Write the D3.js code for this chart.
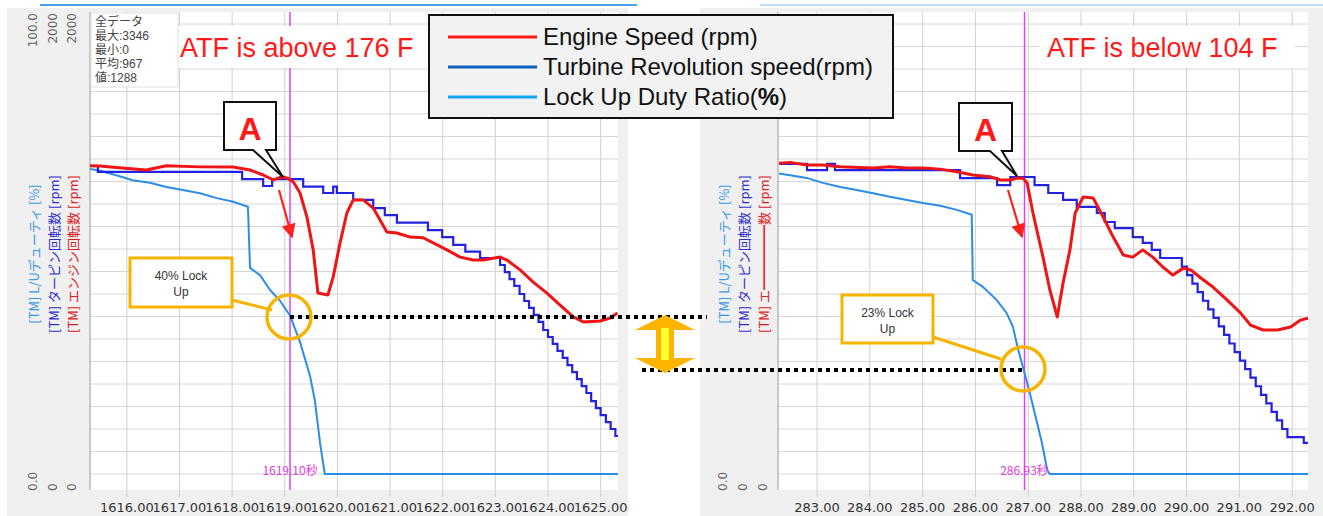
<!DOCTYPE html>
<html>
<head>
<meta charset="utf-8">
<script src="https://cdn.jsdelivr.net/npm/d3@7"></script>
<style>
  body { margin: 0; background: #ffffff; }
  svg { display: block; }
</style>
</head>
<body>
<script>
// ---- data: [time (s), value] ----
const xTicksLeft = [1616, 1617, 1618, 1619, 1620, 1621, 1622, 1623, 1624, 1625];
const xTicksRight = [283, 284, 285, 286, 287, 288, 289, 290, 291, 292];

const engineLeft = [[1615.30,1370],[1615.49,1369],[1615.80,1362],[1616.37,1351],[1616.75,1370],[1617.39,1365],[1618.02,1364],
  [1618.34,1351],[1618.59,1329],[1618.78,1307],[1618.95,1321],[1619.05,1315],[1619.16,1299],[1619.29,1249],[1619.42,1143],
  [1619.54,996],[1619.63,804],[1619.82,796],[1619.92,876],[1620.05,1027],[1620.18,1160],[1620.30,1218],[1620.49,1218],
  [1620.68,1182],[1620.94,1076],[1621.13,1071],[1621.38,1053],[1621.63,1050],[1621.82,1027],[1622.08,996],[1622.33,964],
  [1622.58,951],[1622.77,951],[1623.09,964],[1623.22,951],[1623.47,907],[1623.72,853],[1623.98,804],[1624.23,751],
  [1624.48,698],[1624.67,676],[1624.99,680],[1625.18,693],[1625.32,716]];

const turbineLeft = [[1615.30,1369],[1615.45,1343],[1618.19,1311],[1618.59,1280],[1618.76,1311],[1619.35,1277],[1619.73,1249],
  [1619.92,1277],[1619.99,1249],[1620.30,1218],[1620.68,1182],[1620.90,1151],[1621.13,1117],[1621.72,1084],[1621.99,1053],
  [1622.20,1018],[1622.43,988],[1622.71,960],[1623.09,929],[1623.18,897],[1623.27,866],[1623.36,836],[1623.46,800],
  [1623.55,769],[1623.64,738],[1623.73,707],[1623.82,676],[1623.91,640],[1624.00,609],[1624.09,578],[1624.18,547],
  [1624.28,516],[1624.37,484],[1624.46,453],[1624.55,422],[1624.64,391],[1624.73,360],[1624.82,324],[1624.91,293],
  [1625.00,262],[1625.10,231],[1625.19,200],[1625.28,169],[1625.33,169]];

const dutyLeft = [[1615.30,67.8],[1615.49,67.4],[1615.80,66.4],[1616.11,65.3],[1616.44,64.7],[1616.75,63.8],[1617.06,63.1],
  [1617.39,62.4],[1617.71,61.3],[1618.02,60.5],[1618.30,59.4],[1618.34,45.8],[1618.53,44.2],[1618.72,40.9],[1618.91,38.5],
  [1619.10,35.2],[1619.29,29.3],[1619.48,21.8],[1619.57,16.4],[1619.67,6.9],[1619.76,0],[1625.33,0]];

const engineRight = [[282.28,1381],[282.49,1385],[282.80,1373],[283.11,1373],[283.44,1366],[284.06,1360],[284.38,1366],
  [284.70,1360],[285.01,1360],[285.33,1355],[285.65,1343],[285.95,1329],[286.28,1321],[286.47,1307],[286.66,1307],
  [286.79,1315],[286.90,1315],[286.98,1293],[287.09,1160],[287.28,964],[287.41,818],[287.55,698],[287.66,849],
  [287.79,996],[287.89,1160],[288.04,1231],[288.23,1227],[288.42,1142],[288.61,1053],[288.80,973],[288.98,964],
  [289.17,996],[289.36,964],[289.55,920],[289.74,884],[289.94,915],[290.08,907],[290.27,871],[290.50,831],
  [290.77,773],[291.02,716],[291.21,662],[291.45,640],[291.72,640],[291.97,653],[292.16,684],[292.30,693]];

const turbineRight = [[282.28,1378],[282.81,1351],[283.19,1378],[283.34,1351],[285.71,1315],[286.41,1284],[286.66,1320],
  [287.12,1284],[287.38,1249],[287.66,1218],[287.92,1187],[288.30,1160],[288.45,1120],[288.64,1093],[288.98,1053],
  [289.17,1027],[289.34,996],[289.50,960],[289.91,922],[290.01,884],[290.11,846],[290.21,808],[290.31,770],[290.41,732],
  [290.51,694],[290.61,656],[290.71,618],[290.81,580],[290.91,542],[291.01,504],[291.11,466],[291.21,428],[291.31,390],
  [291.41,352],[291.51,314],[291.61,276],[291.71,238],[291.81,200],[291.91,164],[292.22,138],[292.30,138]];

const dutyRight = [[282.28,66.8],[282.49,66.4],[282.80,65.8],[283.11,64.7],[283.44,63.8],[283.75,63.1],[284.06,62.4],
  [284.38,61.6],[284.70,60.9],[285.01,60.2],[285.33,59.6],[285.65,58.7],[285.93,57.6],[285.95,43.1],[286.14,41.6],
  [286.40,38.7],[286.59,35.8],[286.71,32.7],[286.81,27.6],[286.90,23.8],[287.03,18.0],[287.17,11.3],[287.26,6.9],
  [287.36,0.9],[287.41,0],[292.30,0]];

const legendNames = ["Engine Speed (rpm)", "Turbine Revolution speed(rpm)", "Lock Up Duty Ratio("];
const legendColors = ["#ff1a1a", "#1060c0", "#12a6f0"];
const infoLines = ["全データ", "最大:3346", "最小:0", "平均:967", "値:1288"];
const axisNames = ["[TM] L/Uデューティ [%]", "[TM] ターピン回転数 [rpm]", "[TM] エンジン回転数 [rpm]"];
const axisNamesRight = ["[TM] L/Uデューティ [%]", "[TM] ターピン回転数 [rpm]", "[TM] エ━━━━━数 [rpm]"];
const axisColors = ["#3a9ae8", "#3030d0", "#e02020"];
const topLabels = ["100.0", "2000", "2000"];
const bottomLabels = ["0.0", "0", "0"];

const W = 1323, H = 516;
const jp = "'Noto Sans CJK JP', sans-serif";
const arial = "'Liberation Sans', Arial, sans-serif";

let svg = d3.select("body").append("svg")
  .attr("width", W)
  .attr("height", H);

let defs = svg.append("defs");
defs.append("marker")
  .attr("id", "redhead")
  .attr("viewBox", "0 0 10 10")
  .attr("refX", 9).attr("refY", 5)
  .attr("markerWidth", 7).attr("markerHeight", 6.5)
  .attr("orient", "auto")
  .append("path").attr("d", "M0,0 L10,5 L0,10 Z").attr("fill", "#ff2020");

let yRpm = d3.scaleLinear().domain([0, 2000]).range([474, 24]);
let yDuty = d3.scaleLinear().domain([0, 100]).range([474, 24]);

function drawPanel(p) {
  let x = d3.scaleLinear().domain(p.domain).range([p.left, p.right]);

  // gray frame + white plot
  svg.append("rect").attr("x", p.grayLeft).attr("y", 8).attr("width", p.grayRight - p.grayLeft).attr("height", H - 8)
    .attr("fill", "#f0f0f0");
  svg.append("rect").attr("x", p.left).attr("y", 12).attr("width", p.right - p.left).attr("height", 478)
    .attr("fill", "#ffffff");

  let clipId = "clip" + p.id;
  defs.append("clipPath").attr("id", clipId)
    .append("rect").attr("x", p.left).attr("y", 12).attr("width", p.right - p.left).attr("height", 478);

  // grid
  svg.append("g").selectAll("line")
    .data(d3.range(0, 2001, 100))
    .enter().append("line")
      .attr("x1", p.left).attr("x2", p.right)
      .attr("y1", d => yRpm(d)).attr("y2", d => yRpm(d))
      .attr("stroke", "#d6d6d6").attr("stroke-width", 1);

  svg.append("g").selectAll("line")
    .data(p.ticks)
    .enter().append("line")
      .attr("x1", d => x(d)).attr("x2", d => x(d))
      .attr("y1", 12).attr("y2", 497)
      .attr("stroke", "#d0d0d0").attr("stroke-width", 1);

  svg.append("line").attr("x1", p.left).attr("x2", p.left).attr("y1", 12).attr("y2", 490)
    .attr("stroke", "#9a9a9a").attr("stroke-width", 1);

  // tick labels
  svg.append("g").selectAll("text")
    .data(p.ticks)
    .enter().append("text")
      .attr("x", d => x(d)).attr("y", 512)
      .attr("text-anchor", "middle")
      .attr("font-family", "'DejaVu Sans', sans-serif")
      .attr("font-size", "13px")
      .attr("fill", "#333")
      .text(d => d.toFixed(2));

  // rotated axis labels
  p.axisX.forEach((ax, i) => {
    svg.append("text")
      .attr("transform", `translate(${ax},13) rotate(-90)`)
      .attr("text-anchor", "end").attr("dominant-baseline", "central")
      .attr("font-family", "'DejaVu Sans', sans-serif").attr("font-size", "12px").attr("fill", "#666")
      .text(topLabels[i]);
    svg.append("text")
      .attr("transform", `translate(${ax},491) rotate(-90)`)
      .attr("text-anchor", "start").attr("dominant-baseline", "central")
      .attr("font-family", "'DejaVu Sans', sans-serif").attr("font-size", "12px").attr("fill", "#666")
      .text(bottomLabels[i]);
    svg.append("text")
      .attr("transform", `translate(${ax},254) rotate(-90)`)
      .attr("text-anchor", "middle").attr("dominant-baseline", "central")
      .attr("font-family", jp).attr("font-size", "13px").attr("fill", axisColors[i])
      .text(p.names[i]);
  });

  // cursor line
  let cx = x(p.cursor);
  svg.append("line").attr("x1", cx).attr("x2", cx).attr("y1", 12).attr("y2", 490)
    .attr("stroke", "#e040f0").attr("stroke-width", 1.5);

  let plot = svg.append("g").attr("clip-path", `url(#${clipId})`);

  plot.append("path")
    .datum(p.duty)
    .attr("fill", "none").attr("stroke", "#2a8ee8").attr("stroke-width", 2)
    .attr("d", d3.line().x(d => x(d[0])).y(d => yDuty(d[1])));

  plot.append("path")
    .datum(p.turbine)
    .attr("fill", "none").attr("stroke", "#2222e0").attr("stroke-width", 2.2)
    .attr("d", d3.line().curve(d3.curveStepAfter).x(d => x(d[0])).y(d => yRpm(d[1])));

  plot.append("path")
    .datum(p.engine)
    .attr("fill", "none").attr("stroke", "#f01414").attr("stroke-width", 3)
    .attr("stroke-linejoin", "round")
    .attr("d", d3.line().x(d => x(d[0])).y(d => yRpm(d[1])));

  svg.append("text")
    .attr("x", cx).attr("y", 475)
    .attr("text-anchor", "middle")
    .attr("font-family", jp).attr("font-size", "12px").attr("fill", "#e040e0")
    .text(p.cursor.toFixed(2) + "秒");

  // title
  svg.append("rect").attr("x", p.titleX - 8).attr("y", 26).attr("width", 256).attr("height", 42).attr("fill", "#ffffff");
  svg.append("text")
    .attr("x", p.titleX).attr("y", 57)
    .attr("font-family", arial).attr("font-size", "27px").attr("fill", "#ff1a1a")
    .text(p.title);

  // "A" bubble
  let b = p.bubble;
  svg.append("path")
    .attr("d", `M${b.l},${b.t} H${b.r} V${b.b} H${b.w2} L${b.tx},${b.ty} L${b.w1},${b.b} H${b.l} Z`)
    .attr("fill", "#ffffff").attr("stroke", "#111").attr("stroke-width", 2);
  svg.append("text")
    .attr("x", (b.l + b.r) / 2).attr("y", b.t + 38)
    .attr("text-anchor", "middle")
    .attr("font-family", arial).attr("font-weight", "bold").attr("font-size", "32px").attr("fill", "#ff1a1a")
    .text("A");

  // red arrow
  svg.append("line")
    .attr("x1", p.arrow[0]).attr("y1", p.arrow[1]).attr("x2", p.arrow[2]).attr("y2", p.arrow[3])
    .attr("stroke", "#ff2020").attr("stroke-width", 2.2)
    .attr("marker-end", "url(#redhead)");

  // lock up callout
  let c = p.callout;
  svg.append("line").attr("x1", c.lx1).attr("y1", c.ly1).attr("x2", c.lx2).attr("y2", c.ly2)
    .attr("stroke", "#f5b400").attr("stroke-width", 3);
  svg.append("rect").attr("x", c.x).attr("y", c.y).attr("width", c.w).attr("height", c.h)
    .attr("fill", "#ffffff").attr("stroke", "#f5b400").attr("stroke-width", 3);
  svg.append("text").attr("x", c.x + c.w / 2).attr("y", c.y + 22)
    .attr("text-anchor", "middle").attr("font-family", arial).attr("font-size", "12px").attr("fill", "#333")
    .text(c.text);
  svg.append("text").attr("x", c.x + c.w / 2).attr("y", c.y + 38)
    .attr("text-anchor", "middle").attr("font-family", arial).attr("font-size", "12px").attr("fill", "#333")
    .text("Up");
}

// top window lines
svg.append("line").attr("x1", 40).attr("x2", 637).attr("y1", 5).attr("y2", 5)
  .attr("stroke", "#4aa0ea").attr("stroke-width", 2);
svg.append("line").attr("x1", 760).attr("x2", 1323).attr("y1", 5).attr("y2", 5)
  .attr("stroke", "#a8cff0").attr("stroke-width", 1.5);

drawPanel({
  id: "L", domain: [1615.30, 1625.33], left: 90, right: 618, grayLeft: 7, grayRight: 628,
  ticks: xTicksLeft, axisX: [33, 53, 72], names: axisNames, cursor: 1619.10,
  engine: engineLeft, turbine: turbineLeft, duty: dutyLeft,
  title: "ATF is above 176 F", titleX: 180,
  bubble: { l: 224, r: 276, t: 102, b: 150, w1: 253, w2: 266, tx: 283, ty: 177 },
  arrow: [279, 190, 292, 237],
  callout: { x: 130, y: 258, w: 102, h: 49, text: "40% Lock", lx1: 232, ly1: 300, lx2: 272, ly2: 310 }
});

drawPanel({
  id: "R", domain: [282.26, 292.30], left: 778, right: 1308, grayLeft: 700, grayRight: 1323,
  ticks: xTicksRight, axisX: [723, 743, 763], names: axisNamesRight, cursor: 286.93,
  engine: engineRight, turbine: turbineRight, duty: dutyRight,
  title: "ATF is below 104 F", titleX: 1047,
  bubble: { l: 959, r: 1012, t: 103, b: 151, w1: 990, w2: 1002, tx: 1017, ty: 176 },
  arrow: [1008, 190, 1022, 237],
  callout: { x: 842, y: 295, w: 91, h: 48, text: "23% Lock", lx1: 933, ly1: 337, lx2: 1001, ly2: 359 }
});

// info box
svg.append("rect").attr("x", 91).attr("y", 13).attr("width", 87).attr("height", 74)
  .attr("fill", "#ffffff").attr("stroke", "#e0e0e0").attr("stroke-width", 1);
svg.append("g").selectAll("text")
  .data(infoLines)
  .enter().append("text")
    .attr("x", 95).attr("y", (d, i) => 26 + i * 14)
    .attr("font-family", "'Liberation Sans', 'Noto Sans CJK JP', sans-serif").attr("font-size", "12px").attr("fill", "#444")
    .text(d => d);

// dotted reference lines and circles
svg.append("line").attr("x1", 290).attr("x2", 707).attr("y1", 317).attr("y2", 317)
  .attr("stroke", "#000").attr("stroke-width", 4).attr("stroke-dasharray", "4,4");
svg.append("line").attr("x1", 642).attr("x2", 1023).attr("y1", 370).attr("y2", 370)
  .attr("stroke", "#000").attr("stroke-width", 4).attr("stroke-dasharray", "4,4");
svg.append("circle").attr("cx", 289).attr("cy", 317).attr("r", 22)
  .attr("fill", "none").attr("stroke", "#f5b400").attr("stroke-width", 3.5);
svg.append("circle").attr("cx", 1023).attr("cy", 369).attr("r", 22)
  .attr("fill", "none").attr("stroke", "#f5b400").attr("stroke-width", 3.5);

// yellow double arrow
svg.append("path")
  .attr("d", "M665,315 L695,330 L674,330 L674,358 L695,358 L665,373 L635,358 L656,358 L656,330 L635,330 Z")
  .attr("fill", "#ffb400");
svg.append("rect").attr("x", 661).attr("y", 328).attr("width", 8).attr("height", 32).attr("fill", "#ffff30");

// legend
let legend = svg.append("g");
legend.append("rect").attr("x", 429).attr("y", 15).attr("width", 464).attr("height", 103)
  .attr("fill", "#f2f2f2").attr("stroke", "#111").attr("stroke-width", 2);
legend.selectAll("line")
  .data(legendNames)
  .enter().append("line")
    .attr("x1", 448).attr("x2", 537)
    .attr("y1", (d, i) => 37 + i * 30).attr("y2", (d, i) => 37 + i * 30)
    .attr("stroke", (d, i) => legendColors[i]).attr("stroke-width", 3);
let lt = legend.selectAll("text")
  .data(legendNames)
  .enter().append("text")
    .attr("x", 543).attr("y", (d, i) => 45 + i * 30)
    .attr("font-family", arial).attr("font-size", "24px").attr("fill", "#111")
    .text(d => d);
lt.filter((d, i) => i === 2).append("tspan").attr("font-weight", "bold").text("%");
lt.filter((d, i) => i === 2).append("tspan").text(")");
</script>
</body>
</html>
